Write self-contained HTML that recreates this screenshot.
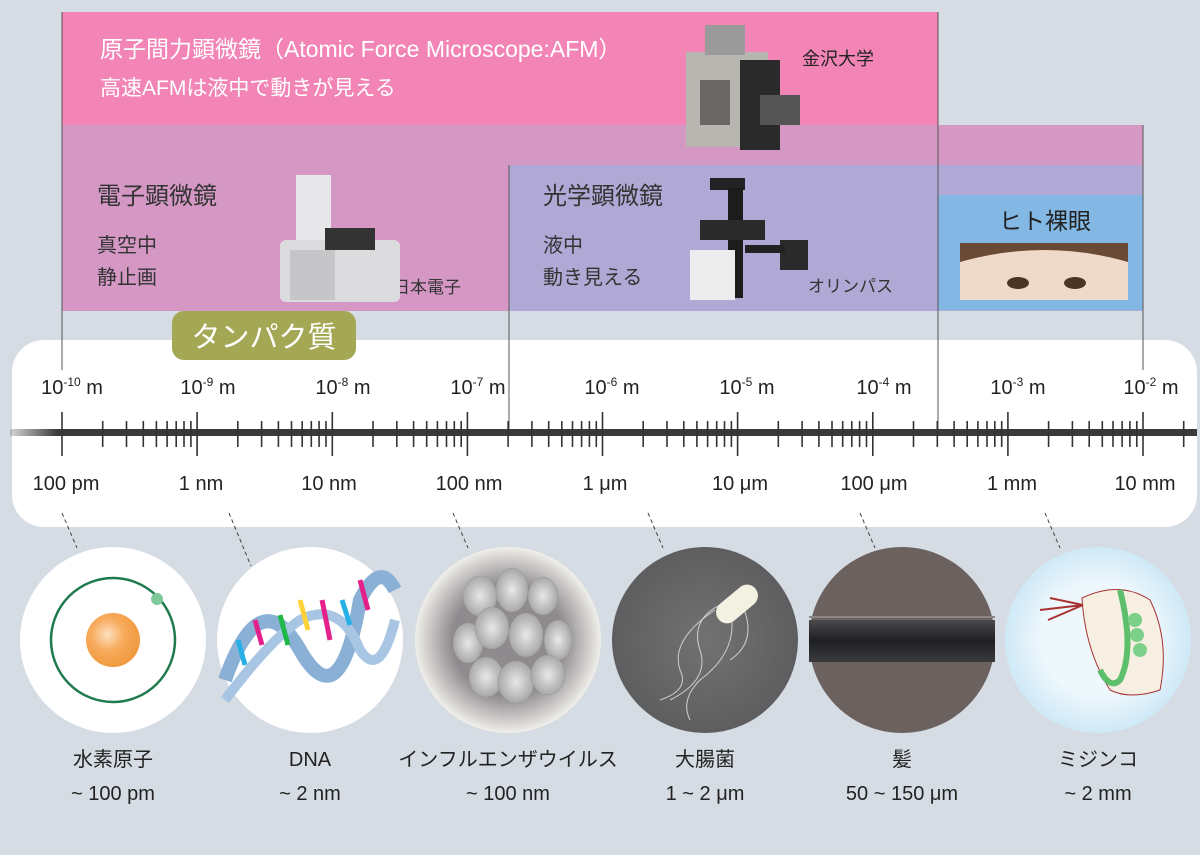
<!DOCTYPE html>
<html><head><meta charset="utf-8"><style>
html,body{margin:0;padding:0;background:#d6dce3;}
svg{display:block}
text{font-family:"Liberation Sans","Noto Sans CJK JP",sans-serif;}
</style></head><body>
<svg width="1200" height="855" viewBox="0 0 1200 855" xmlns="http://www.w3.org/2000/svg">
<defs>
<radialGradient id="orange" cx="0.4" cy="0.4" r="0.6"><stop offset="0" stop-color="#fde0c0"/><stop offset="0.5" stop-color="#f7ab5c"/><stop offset="1" stop-color="#f19a40"/></radialGradient>
<radialGradient id="virus" cx="0.5" cy="0.5" r="0.5"><stop offset="0.6" stop-color="#8e8a8e"/><stop offset="1" stop-color="#f0efea"/></radialGradient>
<radialGradient id="blob" cx="0.5" cy="0.5" r="0.5"><stop offset="0" stop-color="#e8e8e8"/><stop offset="1" stop-color="#a8a8a8"/></radialGradient>
<radialGradient id="ecoli" cx="0.5" cy="0.5" r="0.5"><stop offset="0" stop-color="#727272"/><stop offset="1" stop-color="#5e5e60"/></radialGradient>
<radialGradient id="water" cx="0.5" cy="0.5" r="0.5"><stop offset="0.6" stop-color="#eef7fc"/><stop offset="1" stop-color="#cfe9f7"/></radialGradient>
<linearGradient id="hair" x1="0" y1="0" x2="0" y2="1"><stop offset="0" stop-color="#4a4a4c"/><stop offset="0.5" stop-color="#1e1f21"/><stop offset="1" stop-color="#3a3b3d"/></linearGradient>
<linearGradient id="rulerfade" x1="0" y1="0" x2="1" y2="0"><stop offset="0" stop-color="#3a3a3a" stop-opacity="0.2"/><stop offset="0.04" stop-color="#3a3a3a"/><stop offset="1" stop-color="#3a3a3a"/></linearGradient>
<g id="dec">
<line x1="0" y1="412" x2="0" y2="456"/>
<line x1="40.7" y1="421" x2="40.7" y2="447"/>
<line x1="64.5" y1="421" x2="64.5" y2="447"/>
<line x1="81.3" y1="421" x2="81.3" y2="447"/>
<line x1="94.4" y1="421" x2="94.4" y2="447"/>
<line x1="105.1" y1="421" x2="105.1" y2="447"/>
<line x1="114.2" y1="421" x2="114.2" y2="447"/>
<line x1="122" y1="421" x2="122" y2="447"/>
<line x1="128.9" y1="421" x2="128.9" y2="447"/>
</g>
</defs>

<rect x="62" y="12" width="876" height="114" fill="#f285b5"/>
<rect x="62" y="125" width="1081" height="186" fill="#d598c5"/>
<rect x="509" y="165" width="429" height="146" fill="#b0a9d6"/>
<rect x="938" y="165" width="205" height="146" fill="#b0a9d6"/>
<rect x="938" y="195" width="205" height="115" fill="#84b8e4"/>

<g stroke="#555" stroke-width="1">
<line x1="62" y1="12" x2="62" y2="370"/>
<line x1="509" y1="165" x2="509" y2="432"/>
<line x1="938" y1="12" x2="938" y2="432"/>
<line x1="1143" y1="125" x2="1143" y2="370"/>
</g>

<text x="100" y="57" font-size="23" fill="#fff">原子間力顕微鏡（Atomic Force Microscope:AFM）</text>
<text x="100" y="95" font-size="21" fill="#fff">高速AFMは液中で動きが見える</text>
<text x="802" y="65" font-size="18" fill="#222">金沢大学</text>
<text x="97" y="204" font-size="24" fill="#333">電子顕微鏡</text>
<text x="97" y="252" font-size="20" fill="#333">真空中</text>
<text x="97" y="284" font-size="20" fill="#333">静止画</text>
<text x="393" y="293" font-size="17" fill="#333">日本電子</text>
<text x="543" y="204" font-size="24" fill="#333">光学顕微鏡</text>
<text x="543" y="252" font-size="20" fill="#333">液中</text>
<text x="543" y="284" font-size="20" fill="#333">動き見える</text>
<text x="808" y="292" font-size="17" fill="#333">オリンパス</text>
<text x="1045" y="229" font-size="23" fill="#222" text-anchor="middle">ヒト裸眼</text>

<g>
<rect x="686" y="52" width="82" height="95" fill="#b8b6b0"/>
<rect x="740" y="60" width="40" height="90" fill="#2a2a2a"/>
<rect x="700" y="80" width="30" height="45" fill="#6a6864"/>
<rect x="705" y="25" width="40" height="30" fill="#9a9a9a"/>
<rect x="760" y="95" width="40" height="30" fill="#555"/>
</g>
<g>
<rect x="296" y="175" width="35" height="110" fill="#e8e8ea"/>
<rect x="280" y="240" width="120" height="62" rx="6" fill="#dcdcde"/>
<rect x="325" y="228" width="50" height="22" fill="#333"/>
<rect x="290" y="250" width="45" height="50" fill="#c6c6c8"/>
</g>
<g>
<rect x="710" y="178" width="35" height="12" fill="#222"/>
<rect x="728" y="188" width="15" height="110" fill="#1c1c1c"/>
<rect x="690" y="250" width="45" height="50" fill="#ececec"/>
<rect x="700" y="220" width="65" height="20" fill="#2a2a2a"/>
<rect x="780" y="240" width="28" height="30" fill="#2a2a2a"/>
<rect x="745" y="245" width="40" height="8" fill="#222"/>
</g>
<rect x="960" y="243" width="168" height="57" fill="#efd9c8"/>
<path d="M960 243 H1128 V262 Q1045 238 960 262 Z" fill="#6a4a34"/>
<ellipse cx="1018" cy="283" rx="11" ry="6" fill="#4a3426"/>
<ellipse cx="1075" cy="283" rx="11" ry="6" fill="#4a3426"/>

<rect x="12" y="340" width="1185" height="187" rx="32" fill="#fff"/>
<line x1="62" y1="340" x2="62" y2="370" stroke="#555"/>
<line x1="1143" y1="340" x2="1143" y2="370" stroke="#555"/>
<line x1="509" y1="340" x2="509" y2="432" stroke="#555"/>
<line x1="938" y1="340" x2="938" y2="432" stroke="#555"/>

<rect x="172" y="311" width="184" height="49" rx="12" fill="#a4a855"/>
<text x="264" y="347" font-size="29" fill="#fff" text-anchor="middle">タンパク質</text>

<rect x="10" y="429" width="1187" height="7" fill="url(#rulerfade)"/>
<g stroke="#333" stroke-width="1.6">
<use href="#dec" x="62"/>
<use href="#dec" x="197.1"/>
<use href="#dec" x="332.3"/>
<use href="#dec" x="467.4"/>
<use href="#dec" x="602.5"/>
<use href="#dec" x="737.6"/>
<use href="#dec" x="872.8"/>
<use href="#dec" x="1007.9"/>
<line x1="1143" y1="412" x2="1143" y2="456"/>
<line x1="1183.7" y1="421" x2="1183.7" y2="447"/>
</g>

<g font-size="20" fill="#222" text-anchor="middle">
<text x="72" y="394">10<tspan font-size="12" dy="-8">-10</tspan><tspan dy="8"> m</tspan></text>
<text x="208" y="394">10<tspan font-size="12" dy="-8">-9</tspan><tspan dy="8"> m</tspan></text>
<text x="343" y="394">10<tspan font-size="12" dy="-8">-8</tspan><tspan dy="8"> m</tspan></text>
<text x="478" y="394">10<tspan font-size="12" dy="-8">-7</tspan><tspan dy="8"> m</tspan></text>
<text x="612" y="394">10<tspan font-size="12" dy="-8">-6</tspan><tspan dy="8"> m</tspan></text>
<text x="747" y="394">10<tspan font-size="12" dy="-8">-5</tspan><tspan dy="8"> m</tspan></text>
<text x="884" y="394">10<tspan font-size="12" dy="-8">-4</tspan><tspan dy="8"> m</tspan></text>
<text x="1018" y="394">10<tspan font-size="12" dy="-8">-3</tspan><tspan dy="8"> m</tspan></text>
<text x="1151" y="394">10<tspan font-size="12" dy="-8">-2</tspan><tspan dy="8"> m</tspan></text>
<text x="66" y="490">100 pm</text>
<text x="201" y="490">1 nm</text>
<text x="329" y="490">10 nm</text>
<text x="469" y="490">100 nm</text>
<text x="605" y="490">1 μm</text>
<text x="740" y="490">10 μm</text>
<text x="874" y="490">100 μm</text>
<text x="1012" y="490">1 mm</text>
<text x="1145" y="490">10 mm</text>
</g>

<g stroke="#444" stroke-width="1" stroke-dasharray="4,3">
<line x1="62" y1="513" x2="77" y2="548"/>
<line x1="229" y1="513" x2="251" y2="566"/>
<line x1="453" y1="513" x2="468" y2="548"/>
<line x1="648" y1="513" x2="663" y2="548"/>
<line x1="860" y1="513" x2="875" y2="548"/>
<line x1="1045" y1="513" x2="1060" y2="548"/>
</g>

<circle cx="113" cy="640" r="93" fill="#fff"/>
<circle cx="113" cy="640" r="62" fill="none" stroke="#1f7a4c" stroke-width="2.5"/>
<circle cx="113" cy="640" r="27" fill="url(#orange)"/>
<circle cx="157" cy="599" r="6" fill="#7fc89a"/>

<circle cx="310" cy="640" r="93" fill="#fff"/>
<path d="M225 680 Q260 580 300 650 Q340 720 360 600 Q380 560 395 590" fill="none" stroke="#8ab0d6" stroke-width="14"/>
<path d="M225 700 Q270 640 300 620 Q340 600 360 650 Q380 680 395 620" fill="none" stroke="#a8c6e4" stroke-width="10"/>
<g stroke-width="5">
<line x1="255" y1="620" x2="262" y2="645" stroke="#e4218b"/>
<line x1="280" y1="615" x2="288" y2="645" stroke="#21b84a"/>
<line x1="300" y1="600" x2="308" y2="630" stroke="#ffd23a"/>
<line x1="322" y1="600" x2="330" y2="640" stroke="#e4218b"/>
<line x1="342" y1="600" x2="350" y2="625" stroke="#28b0e6"/>
<line x1="360" y1="580" x2="368" y2="610" stroke="#e4218b"/>
<line x1="238" y1="640" x2="245" y2="665" stroke="#28b0e6"/>
</g>

<circle cx="508" cy="640" r="93" fill="url(#virus)"/>
<g fill="url(#blob)" stroke="#999" stroke-width="0.5">
<ellipse cx="480" cy="596" rx="17" ry="20"/>
<ellipse cx="512" cy="590" rx="16" ry="22"/>
<ellipse cx="543" cy="596" rx="15" ry="19"/>
<ellipse cx="468" cy="643" rx="15" ry="20"/>
<ellipse cx="492" cy="628" rx="17" ry="21"/>
<ellipse cx="526" cy="635" rx="17" ry="22"/>
<ellipse cx="558" cy="640" rx="14" ry="20"/>
<ellipse cx="486" cy="677" rx="17" ry="20"/>
<ellipse cx="516" cy="682" rx="18" ry="21"/>
<ellipse cx="548" cy="675" rx="17" ry="20"/>
</g>

<circle cx="705" cy="640" r="93" fill="url(#ecoli)"/>
<g fill="none" stroke="#cfcfcf" stroke-width="1">
<path d="M720 605 Q690 620 700 650 Q710 680 670 700"/>
<path d="M715 610 Q670 640 680 670 Q690 690 660 700"/>
<path d="M730 610 Q740 650 700 680 Q680 700 690 720"/>
<path d="M740 600 Q760 640 730 660"/>
</g>
<rect x="713" y="593" width="48" height="22" rx="11" fill="#f3f1e2" transform="rotate(-40 737 604)"/>

<circle cx="902" cy="640" r="93" fill="#6b625f"/>
<rect x="809" y="620" width="186" height="42" fill="url(#hair)"/>
<line x1="809" y1="617" x2="995" y2="617" stroke="#8a8482" stroke-width="2"/>

<circle cx="1098" cy="640" r="93" fill="url(#water)"/>
<path d="M1082 598 Q1120 580 1150 600 Q1170 640 1160 690 Q1130 700 1110 690 Q1085 650 1082 598 Z" fill="#f6efe2" stroke="#a83232" stroke-width="1"/>
<path d="M1120 590 Q1135 650 1120 680 Q1110 690 1100 670" fill="none" stroke="#5dbf6b" stroke-width="6"/>
<circle cx="1135" cy="620" r="7" fill="#7bd08a"/>
<circle cx="1137" cy="635" r="7" fill="#7bd08a"/>
<circle cx="1140" cy="650" r="7" fill="#7bd08a"/>
<path d="M1083 605 L1040 610 M1083 605 L1048 620 M1083 605 L1050 598" stroke="#a83232" stroke-width="2"/>

<g font-size="20" fill="#222" text-anchor="middle">
<text x="113" y="766">水素原子</text>
<text x="113" y="800">~ 100 pm</text>
<text x="310" y="766">DNA</text>
<text x="310" y="800">~ 2 nm</text>
<text x="508" y="766">インフルエンザウイルス</text>
<text x="508" y="800">~ 100 nm</text>
<text x="705" y="766">大腸菌</text>
<text x="705" y="800">1 ~ 2 μm</text>
<text x="902" y="766">髪</text>
<text x="902" y="800">50 ~ 150 μm</text>
<text x="1098" y="766">ミジンコ</text>
<text x="1098" y="800">~ 2 mm</text>
</g>
</svg>
</body></html>
